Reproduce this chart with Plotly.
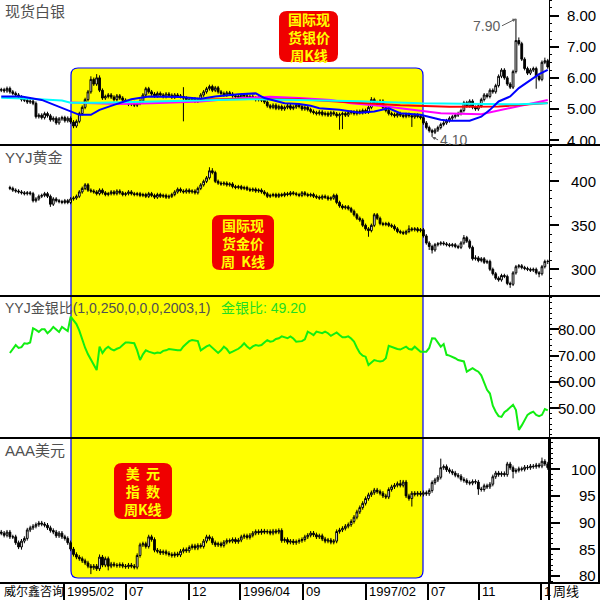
import pandas as pd
import plotly.graph_objects as go

W = H = 600
N = 190
dates = pd.date_range("1994-09-02", periods=N, freq="7D")

# ---------------- silver (weekly OHLC) ----------------
silver_open = [
    5.60, 5.62, 5.58, 5.66, 5.55, 5.50, 5.45, 5.38, 5.30, 5.28,
    5.22, 5.25, 5.18, 4.75, 4.80, 4.72, 4.85, 4.78, 4.65, 4.70,
    4.55, 4.68, 4.72, 4.62, 4.70, 4.58, 4.45, 4.60, 4.85, 5.05,
    5.30, 5.55, 5.95, 5.80, 6.00, 5.60, 5.35, 5.40, 5.45, 5.38,
    5.30, 5.42, 5.35, 5.28, 5.22, 5.15, 5.20, 5.12, 5.18, 5.25,
    5.45, 5.65, 5.55, 5.48, 5.42, 5.50, 5.45, 5.40, 5.48, 5.44,
    5.38, 5.45, 5.42, 5.40, 5.35, 5.30, 5.28, 5.32, 5.25, 5.30,
    5.45, 5.55, 5.65, 5.72, 5.60, 5.68, 5.55, 5.50, 5.45, 5.52,
    5.48, 5.42, 5.40, 5.38, 5.45, 5.42, 5.36, 5.40, 5.35, 5.30,
    5.35, 5.28, 5.22, 5.10, 5.05, 5.12, 5.02, 5.08, 5.00, 5.05,
    5.10, 5.02, 5.06, 5.12, 5.08, 5.00, 5.05, 4.98, 4.92, 4.88,
    4.85, 4.90, 4.82, 4.86, 4.80, 4.88, 4.84, 4.78, 4.82, 4.85,
    4.80, 4.88, 4.90, 4.85, 4.92, 4.88, 4.95, 4.90, 5.05, 5.30,
    5.20, 5.15, 5.25, 5.05, 4.95, 4.85, 4.82, 4.78, 4.85, 4.80,
    4.76, 4.82, 4.78, 4.74, 4.80, 4.76, 4.72, 4.55, 4.40, 4.30,
    4.25, 4.32, 4.40, 4.50, 4.55, 4.62, 4.70, 4.75, 4.80, 4.85,
    4.95, 5.20, 5.10, 5.25, 5.05, 5.00, 5.10, 5.30, 5.45, 5.40,
    5.60, 5.55, 5.75, 6.05, 6.25, 6.00, 5.80, 5.70, 6.20, 7.20,
    7.10, 6.60, 6.30, 6.15, 6.25, 6.30, 6.05, 5.95, 6.50, 6.55,
]
silver_close = [
    5.62, 5.58, 5.66, 5.55, 5.50, 5.45, 5.38, 5.30, 5.28, 5.22,
    5.25, 5.18, 4.75, 4.80, 4.72, 4.85, 4.78, 4.65, 4.70, 4.55,
    4.68, 4.72, 4.62, 4.70, 4.58, 4.45, 4.60, 4.85, 5.05, 5.30,
    5.55, 5.95, 5.80, 6.00, 5.60, 5.35, 5.40, 5.45, 5.38, 5.30,
    5.42, 5.35, 5.28, 5.22, 5.15, 5.20, 5.12, 5.18, 5.25, 5.45,
    5.65, 5.55, 5.48, 5.42, 5.50, 5.45, 5.40, 5.48, 5.44, 5.38,
    5.45, 5.42, 5.40, 5.35, 5.30, 5.28, 5.32, 5.25, 5.30, 5.45,
    5.55, 5.65, 5.72, 5.60, 5.68, 5.55, 5.50, 5.45, 5.52, 5.48,
    5.42, 5.40, 5.38, 5.45, 5.42, 5.36, 5.40, 5.35, 5.30, 5.35,
    5.28, 5.22, 5.10, 5.05, 5.12, 5.02, 5.08, 5.00, 5.05, 5.10,
    5.02, 5.06, 5.12, 5.08, 5.00, 5.05, 4.98, 4.92, 4.88, 4.85,
    4.90, 4.82, 4.86, 4.80, 4.88, 4.84, 4.78, 4.82, 4.85, 4.80,
    4.88, 4.90, 4.85, 4.92, 4.88, 4.95, 4.90, 5.05, 5.30, 5.20,
    5.15, 5.25, 5.05, 4.95, 4.85, 4.82, 4.78, 4.85, 4.80, 4.76,
    4.82, 4.78, 4.74, 4.80, 4.76, 4.72, 4.55, 4.40, 4.30, 4.25,
    4.32, 4.40, 4.50, 4.55, 4.62, 4.70, 4.75, 4.80, 4.85, 4.95,
    5.20, 5.10, 5.25, 5.05, 5.00, 5.10, 5.30, 5.45, 5.40, 5.60,
    5.55, 5.75, 6.05, 6.25, 6.00, 5.80, 5.70, 6.20, 7.20, 7.10,
    6.60, 6.30, 6.15, 6.25, 6.30, 6.05, 5.95, 6.50, 6.55, 6.35,
]
silver_high = [
    5.68, 5.68, 5.72, 5.72, 5.61, 5.56, 5.51, 5.44, 5.36, 5.34,
    5.31, 5.31, 5.24, 4.86, 4.86, 4.91, 4.91, 4.84, 4.76, 4.76,
    4.74, 4.78, 4.78, 4.76, 4.76, 4.64, 4.66, 4.91, 5.11, 5.36,
    5.61, 6.05, 6.01, 6.12, 6.08, 5.66, 5.46, 5.51, 5.51, 5.44,
    5.48, 5.48, 5.41, 5.34, 5.28, 5.26, 5.26, 5.24, 5.31, 5.51,
    5.71, 5.71, 5.61, 5.54, 5.56, 5.56, 5.51, 5.54, 5.54, 5.50,
    5.51, 5.51, 5.48, 5.70, 5.41, 5.36, 5.38, 5.38, 5.36, 5.51,
    5.61, 5.71, 5.78, 5.78, 5.74, 5.74, 5.61, 5.56, 5.58, 5.58,
    5.54, 5.48, 5.46, 5.51, 5.51, 5.48, 5.46, 5.46, 5.41, 5.41,
    5.41, 5.34, 5.28, 5.16, 5.18, 5.18, 5.14, 5.14, 5.11, 5.16,
    5.16, 5.12, 5.18, 5.18, 5.14, 5.11, 5.11, 5.04, 4.98, 4.94,
    4.96, 4.96, 4.92, 4.92, 4.94, 4.94, 4.90, 4.88, 4.91, 4.91,
    4.94, 4.96, 4.96, 4.98, 4.98, 5.01, 5.01, 5.11, 5.38, 5.36,
    5.26, 5.31, 5.31, 5.11, 5.01, 4.91, 4.88, 4.91, 4.91, 4.86,
    4.88, 4.88, 4.84, 4.86, 4.86, 4.82, 4.78, 4.61, 4.46, 4.36,
    4.38, 4.46, 4.56, 4.61, 4.68, 4.76, 4.81, 4.86, 4.91, 5.01,
    5.26, 5.26, 5.31, 5.31, 5.11, 5.16, 5.36, 5.51, 5.51, 5.66,
    5.66, 5.81, 6.11, 6.31, 6.31, 6.06, 5.86, 6.26, 7.90, 7.30,
    7.16, 6.66, 6.36, 6.31, 6.36, 6.36, 6.11, 6.56, 6.65, 6.61,
]
silver_low = [
    5.54, 5.52, 5.52, 5.49, 5.44, 5.39, 5.32, 5.24, 5.22, 5.16,
    5.16, 5.12, 4.69, 4.69, 4.66, 4.66, 4.72, 4.59, 4.59, 4.49,
    4.49, 4.62, 4.56, 4.56, 4.52, 4.38, 4.39, 4.54, 4.79, 4.99,
    5.24, 5.49, 5.74, 5.74, 5.54, 5.29, 5.29, 5.34, 5.32, 5.24,
    5.24, 5.29, 5.22, 5.16, 5.09, 5.09, 5.06, 5.06, 5.12, 5.19,
    5.39, 5.49, 5.42, 5.36, 5.36, 5.39, 5.34, 5.34, 5.38, 5.32,
    5.32, 5.36, 5.34, 4.60, 5.24, 5.22, 5.22, 5.19, 5.19, 5.24,
    5.39, 5.49, 5.59, 5.54, 5.54, 5.49, 5.44, 5.39, 5.39, 5.42,
    5.36, 5.34, 5.32, 5.32, 5.36, 5.30, 5.30, 5.29, 5.24, 5.24,
    5.22, 5.16, 5.04, 4.99, 4.99, 4.96, 4.96, 4.94, 4.94, 4.99,
    4.96, 4.96, 5.00, 5.02, 4.94, 4.94, 4.92, 4.86, 4.82, 4.79,
    4.79, 4.76, 4.76, 4.74, 4.74, 4.78, 4.72, 4.33, 4.35, 4.74,
    4.74, 4.82, 4.79, 4.79, 4.82, 4.82, 4.84, 4.84, 4.99, 5.14,
    5.09, 5.09, 4.99, 4.89, 4.79, 4.76, 4.72, 4.72, 4.74, 4.70,
    4.70, 4.72, 4.42, 4.68, 4.70, 4.66, 4.49, 4.34, 4.24, 4.10,
    4.19, 4.26, 4.34, 4.44, 4.49, 4.56, 4.64, 4.69, 4.74, 4.79,
    4.89, 5.04, 5.04, 4.99, 4.94, 4.94, 5.04, 5.24, 5.34, 5.34,
    5.49, 5.49, 5.69, 5.99, 5.94, 5.74, 5.64, 5.64, 6.14, 7.04,
    6.54, 6.24, 6.09, 6.09, 6.19, 5.65, 5.89, 5.89, 6.44, 6.29,
]

# silver moving averages (read at sample weeks)
ma_blue_week = [0, 7, 14, 20, 24, 27, 31, 34, 39, 45, 51, 62, 69, 74, 82, 88, 91, 98, 103, 107,
                110, 117, 124, 129, 134, 138, 145, 148, 152, 155, 162, 166, 169, 172, 176, 179, 183, 186, 189]
ma_blue = [5.40, 5.40, 5.29, 5.07, 4.90, 4.81, 4.81, 4.97, 5.13, 5.31, 5.40, 5.38, 5.33, 5.40, 5.47,
           5.50, 5.35, 5.18, 5.16, 5.10, 5.02, 4.97, 4.88, 4.92, 5.02, 4.86, 4.81, 4.75, 4.65, 4.62,
           4.62, 4.75, 4.97, 5.24, 5.40, 5.67, 5.93, 6.12, 6.26]
ma_cyan_week = [0, 10, 21, 24, 34, 52, 69, 86, 103, 124, 145, 162, 179, 189]
ma_cyan = [5.36, 5.33, 5.27, 5.20, 5.20, 5.24, 5.29, 5.31, 5.29, 5.25, 5.18, 5.16, 5.15, 5.18]
ma_magenta_week = [24, 34, 41, 52, 69, 83, 93, 103, 114, 121, 131, 138, 152, 166, 172, 179, 186, 189]
ma_magenta = [5.21, 5.18, 5.16, 5.18, 5.24, 5.35, 5.39, 5.35, 5.29, 5.18, 5.10, 5.02, 4.86, 4.83,
              4.95, 5.08, 5.24, 5.29]
ma_red_week = [69, 86, 103, 121, 138, 155, 172, 189]
ma_red = [5.30, 5.32, 5.31, 5.22, 5.12, 5.07, 5.08, 5.19]

# ---------------- gold (weekly OHLC) ----------------
gold_open = [
    None, None, None, 393, 392, 390, 389, 388, 387, 386,
    387, 386, 378, 380, 383, 384, 386, 383, 374, 380,
    378, 377, 376, 378, 376, 380, 381, 383, 388, 392,
    396, 390, 389, 388, 386, 390, 387, 385, 386, 388,
    386, 389, 387, 385, 386, 388, 386, 385, 386, 384,
    385, 383, 386, 384, 382, 385, 383, 384, 382, 383,
    385, 388, 391, 389, 388, 390, 388, 389, 387, 392,
    396, 400, 404, 412, 410, 400, 398, 397, 398, 396,
    397, 394, 393, 394, 392, 393, 391, 390, 391, 389,
    390, 388, 386, 383, 384, 385, 383, 385, 384, 386,
    385, 387, 386, 385, 384, 387, 385, 384, 385, 383,
    382, 381, 383, 382, 380, 381, 384, 376, 372, 370,
    371, 369, 366, 362, 358, 356, 350, 346, 344, 350,
    362, 358, 352, 351, 352, 350, 349, 346, 343, 342,
    341, 343, 346, 345, 346, 344, 345, 338, 330, 326,
    322, 328, 329, 330, 329, 328, 327, 328, 326, 325,
    330, 336, 332, 325, 312, 313, 310, 312, 308, 309,
    300, 295, 290, 288, 293, 292, 284, 283, 296, 303,
    304, 302, 301, 300, 299, 300, 296, 295, 303, 309,
]
gold_close = [
    None, None, None, 392, 390, 389, 388, 387, 386, 387,
    386, 378, 380, 383, 384, 386, 383, 374, 380, 378,
    377, 376, 378, 376, 380, 381, 383, 388, 392, 396,
    390, 389, 388, 386, 390, 387, 385, 386, 388, 386,
    389, 387, 385, 386, 388, 386, 385, 386, 384, 385,
    383, 386, 384, 382, 385, 383, 384, 382, 383, 385,
    388, 391, 389, 388, 390, 388, 389, 387, 392, 396,
    400, 404, 412, 410, 400, 398, 397, 398, 396, 397,
    394, 393, 394, 392, 393, 391, 390, 391, 389, 390,
    388, 386, 383, 384, 385, 383, 385, 384, 386, 385,
    387, 386, 385, 384, 387, 385, 384, 385, 383, 382,
    381, 383, 382, 380, 381, 384, 376, 372, 370, 371,
    369, 366, 362, 358, 356, 350, 346, 344, 350, 362,
    358, 352, 351, 352, 350, 349, 346, 343, 342, 341,
    343, 346, 345, 346, 344, 345, 338, 330, 326, 322,
    328, 329, 330, 329, 328, 327, 328, 326, 325, 330,
    336, 332, 325, 312, 313, 310, 312, 308, 309, 300,
    295, 290, 288, 293, 292, 284, 283, 296, 303, 304,
    302, 301, 300, 299, 300, 296, 295, 303, 309, 309,
]
gold_high = [
    None, None, None, 395, 394, 392, 391, 390, 389, 389,
    389, 388, 382, 385, 386, 388, 388, 385, 382, 382,
    380, 379, 380, 380, 382, 383, 385, 390, 394, 398,
    398, 392, 391, 390, 392, 392, 389, 388, 390, 390,
    391, 391, 389, 388, 390, 390, 388, 388, 388, 387,
    387, 388, 388, 386, 387, 387, 386, 386, 385, 387,
    390, 393, 393, 391, 392, 392, 391, 391, 394, 398,
    402, 406, 416, 415, 412, 402, 400, 400, 400, 399,
    399, 396, 396, 396, 395, 395, 393, 393, 393, 392,
    392, 390, 388, 386, 387, 387, 387, 387, 388, 388,
    389, 389, 388, 387, 389, 389, 387, 387, 387, 385,
    384, 385, 385, 384, 383, 386, 386, 378, 374, 373,
    373, 371, 368, 364, 360, 358, 352, 348, 352, 364,
    364, 360, 354, 354, 354, 352, 351, 348, 345, 344,
    345, 350, 348, 348, 348, 347, 347, 340, 332, 328,
    330, 331, 332, 332, 331, 330, 330, 330, 328, 332,
    339, 338, 334, 327, 316, 315, 314, 314, 311, 311,
    302, 297, 292, 295, 295, 294, 286, 298, 305, 306,
    306, 304, 303, 302, 302, 302, 298, 305, 311, 311,
]
gold_low = [
    None, None, None, 390, 388, 387, 386, 385, 384, 384,
    384, 376, 376, 378, 381, 382, 381, 371, 372, 376,
    375, 374, 374, 374, 374, 378, 379, 381, 386, 390,
    388, 387, 386, 384, 384, 385, 383, 383, 384, 384,
    384, 385, 383, 383, 384, 384, 383, 383, 382, 382,
    381, 381, 382, 380, 380, 381, 381, 380, 380, 381,
    383, 386, 387, 386, 386, 386, 386, 385, 385, 390,
    394, 398, 402, 408, 398, 396, 395, 395, 394, 394,
    392, 391, 391, 390, 390, 389, 388, 388, 387, 387,
    386, 384, 381, 381, 382, 381, 381, 382, 382, 383,
    383, 384, 383, 382, 382, 383, 382, 382, 381, 380,
    379, 379, 380, 378, 378, 379, 374, 370, 368, 368,
    367, 364, 360, 356, 354, 348, 344, 337, 342, 348,
    356, 350, 349, 349, 348, 347, 344, 341, 340, 339,
    339, 341, 343, 343, 342, 342, 336, 328, 322, 318,
    320, 326, 327, 327, 326, 325, 325, 324, 323, 323,
    328, 330, 323, 310, 310, 308, 308, 306, 306, 298,
    293, 288, 286, 286, 290, 282, 279, 281, 294, 301,
    300, 299, 298, 297, 297, 294, 291, 293, 301, 306,
]

# ---------------- gold / silver ratio ----------------
ratio = [
    None, None, None, 71.0, 72.5, 74.0, 72.9, 73.2, 74.7, 74.5,
    75.0, 80.4, 79.8, 79.0, 80.0, 80.0, 78.5, 79.5, 80.9, 79.8,
    79.0, 80.9, 80.0, 79.3, 84.8, 83.5, 82.0, 79.5, 76.0, 73.0,
    70.5, 68.5, 66.5, 64.5, 73.4, 71.0, 72.5, 73.4, 72.5, 72.0,
    72.6, 73.0, 74.0, 75.0, 75.0, 74.8, 74.7, 72.0, 68.3, 70.5,
    72.0, 71.5, 71.0, 70.8, 71.2, 71.0, 71.8, 72.0, 72.5, 72.3,
    72.3, 72.0, 72.0, 73.5, 74.5, 75.5, 75.9, 75.8, 75.5, 72.0,
    72.8, 73.5, 74.0, 73.0, 72.0, 71.0, 72.0, 73.4, 72.5, 71.0,
    71.5, 72.0, 72.6, 73.5, 74.7, 73.5, 72.6, 73.5, 74.0, 73.8,
    74.0, 75.0, 75.9, 75.3, 75.5, 76.3, 76.6, 77.3, 76.8, 76.6,
    77.3, 76.5, 75.3, 75.3, 75.5, 76.2, 79.1, 78.5, 77.8, 79.1,
    78.8, 78.5, 79.1, 78.5, 77.5, 78.0, 78.8, 77.8, 77.0, 77.0,
    77.3, 76.5, 75.3, 73.0, 71.0, 70.0, 69.6, 66.4, 67.5, 68.3,
    68.0, 67.8, 68.0, 69.0, 73.7, 73.2, 72.9, 72.5, 72.3, 73.0,
    73.4, 72.5, 72.3, 73.4, 72.5, 71.5, 71.5, 71.5, 72.9, 76.6,
    76.5, 75.0, 73.4, 74.4, 70.3, 70.0, 69.6, 69.0, 68.3, 68.0,
    67.8, 63.9, 64.5, 65.2, 64.5, 63.9, 62.5, 60.0, 57.0, 55.6,
    51.0, 48.7, 47.0, 46.7, 48.5, 49.3, 50.5, 51.3, 49.3, 41.8,
    43.5, 45.5, 47.5, 48.2, 48.7, 47.5, 47.0, 47.5, 49.7, 49.2,
]

# ---------------- US dollar index (weekly OHLC) ----------------
usd_open = [
    88.2, 88.0, 87.6, 88.2, 87.3, 87.3, 86.2, 85.4, 86.5, 87.0,
    88.6, 89.0, 89.3, 89.6, 89.9, 89.7, 89.5, 89.0, 88.5, 88.2,
    87.5, 88.0, 87.3, 87.0, 86.2, 85.0, 84.0, 83.5, 83.2, 82.8,
    82.4, 81.8, 81.5, 81.8, 81.3, 83.5, 82.0, 83.2, 81.8, 82.2,
    82.0, 81.9, 82.1, 81.8, 81.7, 82.0, 81.8, 81.6, 83.8, 85.8,
    86.0, 85.5, 87.3, 86.8, 84.8, 84.6, 84.3, 84.5, 84.2, 84.0,
    83.8, 84.1, 83.9, 84.6, 84.9, 84.7, 85.3, 85.6, 85.2, 85.7,
    85.5, 86.5, 87.3, 87.0, 86.2, 85.8, 86.0, 85.7, 86.3, 86.6,
    86.5, 86.8, 86.4, 86.7, 87.3, 87.5, 87.2, 87.6, 88.0, 88.3,
    88.1, 88.4, 88.2, 88.3, 88.0, 88.4, 88.2, 88.5, 86.6, 86.8,
    86.3, 86.5, 86.2, 86.4, 86.6, 86.8, 87.3, 87.6, 88.0, 87.7,
    87.3, 87.5, 86.9, 86.5, 86.7, 86.3, 86.5, 88.3, 88.6, 88.9,
    89.3, 89.6, 90.2, 91.0, 92.0, 92.8, 93.6, 94.5, 95.2, 95.6,
    96.1, 95.8, 95.5, 95.0, 94.8, 96.2, 96.7, 97.0, 97.3, 97.0,
    97.6, 95.0, 94.5, 95.5, 95.3, 95.5, 95.3, 95.6, 95.4, 96.0,
    97.5, 98.0, 98.5, 100.3, 100.5, 99.9, 99.6, 99.3, 98.9, 98.7,
    98.1, 97.9, 97.5, 97.4, 97.7, 97.6, 96.3, 96.2, 96.9, 96.7,
    97.2, 98.6, 99.3, 99.0, 99.2, 99.0, 101.0, 100.3, 99.6, 99.8,
    100.1, 100.0, 100.4, 100.3, 100.6, 100.5, 100.8, 100.6, 101.5, 101.0,
]
usd_close = [
    88.0, 87.6, 88.2, 87.3, 87.3, 86.2, 85.4, 86.5, 87.0, 88.6,
    89.0, 89.3, 89.6, 89.9, 89.7, 89.5, 89.0, 88.5, 88.2, 87.5,
    88.0, 87.3, 87.0, 86.2, 85.0, 84.0, 83.5, 83.2, 82.8, 82.4,
    81.8, 81.5, 81.8, 81.3, 83.5, 82.0, 83.2, 81.8, 82.2, 82.0,
    81.9, 82.1, 81.8, 81.7, 82.0, 81.8, 81.6, 83.8, 85.8, 86.0,
    85.5, 87.3, 86.8, 84.8, 84.6, 84.3, 84.5, 84.2, 84.0, 83.8,
    84.1, 83.9, 84.6, 84.9, 84.7, 85.3, 85.6, 85.2, 85.7, 85.5,
    86.5, 87.3, 87.0, 86.2, 85.8, 86.0, 85.7, 86.3, 86.6, 86.5,
    86.8, 86.4, 86.7, 87.3, 87.5, 87.2, 87.6, 88.0, 88.3, 88.1,
    88.4, 88.2, 88.3, 88.0, 88.4, 88.2, 88.5, 86.6, 86.8, 86.3,
    86.5, 86.2, 86.4, 86.6, 86.8, 87.3, 87.6, 88.0, 87.7, 87.3,
    87.5, 86.9, 86.5, 86.7, 86.3, 86.5, 88.3, 88.6, 88.9, 89.3,
    89.6, 90.2, 91.0, 92.0, 92.8, 93.6, 94.5, 95.2, 95.6, 96.1,
    95.8, 95.5, 95.0, 94.8, 96.2, 96.7, 97.0, 97.3, 97.0, 97.6,
    95.0, 94.5, 95.5, 95.3, 95.5, 95.3, 95.6, 95.4, 96.0, 97.5,
    98.0, 98.5, 100.3, 100.5, 99.9, 99.6, 99.3, 98.9, 98.7, 98.1,
    97.9, 97.5, 97.4, 97.7, 97.6, 96.3, 96.2, 96.9, 96.7, 97.2,
    98.6, 99.3, 99.0, 99.2, 99.0, 101.0, 100.3, 99.6, 99.8, 100.1,
    100.0, 100.4, 100.3, 100.6, 100.5, 100.8, 100.6, 101.5, 101.0, 100.3,
]
usd_high = [
    88.6, 88.4, 88.6, 88.6, 87.7, 87.7, 86.6, 86.9, 87.4, 89.0,
    89.4, 89.7, 90.0, 90.3, 90.3, 90.1, 89.9, 89.4, 88.9, 88.6,
    88.4, 88.4, 87.7, 87.4, 86.6, 85.4, 84.4, 83.9, 83.6, 83.2,
    82.8, 82.2, 82.2, 82.2, 84.0, 83.9, 83.6, 83.6, 82.6, 82.6,
    82.4, 82.5, 82.5, 82.2, 82.4, 82.4, 82.2, 84.2, 86.2, 86.4,
    86.4, 87.7, 87.7, 87.2, 85.2, 85.0, 84.9, 84.9, 84.6, 84.4,
    84.5, 84.5, 85.0, 85.3, 85.3, 85.7, 86.0, 86.0, 86.1, 86.1,
    86.9, 87.7, 87.7, 87.4, 86.6, 86.4, 86.4, 86.7, 87.0, 87.0,
    87.2, 87.2, 87.1, 87.7, 87.9, 87.9, 88.0, 88.4, 88.7, 88.7,
    88.8, 88.8, 88.7, 88.7, 88.8, 88.8, 88.9, 88.9, 87.2, 87.2,
    86.9, 86.9, 86.8, 87.0, 87.2, 87.7, 88.0, 88.4, 88.4, 88.1,
    87.9, 87.9, 87.3, 87.1, 87.1, 86.9, 88.7, 89.0, 89.3, 89.7,
    90.0, 90.6, 91.4, 92.4, 93.2, 94.0, 94.9, 95.6, 96.0, 96.5,
    96.5, 96.2, 95.9, 95.4, 96.6, 97.1, 97.4, 97.7, 98.0, 98.0,
    98.0, 95.4, 95.9, 95.9, 95.9, 95.9, 96.0, 96.0, 96.4, 97.9,
    98.4, 98.9, 102.0, 100.9, 100.9, 100.3, 100.0, 99.7, 99.3, 99.1,
    98.5, 98.3, 97.9, 98.1, 98.1, 98.0, 96.7, 97.3, 97.3, 97.6,
    99.0, 99.7, 99.7, 99.6, 99.6, 101.4, 101.4, 100.7, 100.2, 100.5,
    100.5, 100.8, 100.8, 101.0, 101.0, 101.2, 101.2, 102.2, 101.9, 101.4,
]
usd_low = [
    87.6, 87.2, 87.2, 86.9, 86.9, 85.8, 85.0, 84.9, 86.1, 86.6,
    88.2, 88.6, 88.9, 89.2, 89.3, 89.1, 88.6, 88.1, 87.8, 87.1,
    87.1, 86.9, 86.6, 85.8, 84.6, 83.6, 83.1, 82.8, 82.4, 82.0,
    81.4, 80.3, 81.1, 80.9, 80.9, 81.6, 81.6, 81.0, 81.4, 81.6,
    81.5, 81.5, 81.4, 81.3, 81.3, 81.4, 81.2, 81.2, 83.4, 85.4,
    85.1, 85.1, 86.4, 84.4, 84.2, 83.9, 83.9, 83.8, 83.6, 83.4,
    83.4, 83.5, 83.5, 84.2, 84.3, 84.3, 84.9, 84.8, 84.8, 85.1,
    85.1, 86.1, 86.6, 85.8, 85.4, 85.4, 85.3, 85.3, 85.9, 86.1,
    86.1, 86.0, 86.0, 86.3, 86.9, 86.8, 86.8, 87.2, 87.6, 87.7,
    87.7, 87.8, 87.8, 87.6, 87.6, 87.8, 87.8, 86.2, 86.2, 85.9,
    85.9, 85.8, 85.8, 86.0, 86.2, 86.4, 86.9, 87.2, 87.3, 86.9,
    86.9, 86.5, 86.1, 86.1, 85.9, 85.9, 86.1, 87.9, 88.2, 88.5,
    88.9, 89.2, 89.8, 90.6, 91.6, 92.4, 93.2, 94.1, 94.8, 95.2,
    95.4, 95.1, 94.6, 94.4, 94.4, 95.8, 96.3, 96.6, 96.6, 96.6,
    94.6, 94.1, 93.0, 94.9, 94.9, 94.9, 94.9, 95.0, 95.0, 95.6,
    97.1, 97.6, 98.1, 99.9, 99.5, 99.2, 98.9, 98.5, 98.3, 97.7,
    97.5, 97.1, 97.0, 97.0, 97.2, 95.2, 95.8, 95.8, 96.3, 96.3,
    96.8, 98.2, 98.6, 98.6, 98.6, 98.6, 99.9, 98.3, 99.2, 99.4,
    99.6, 99.6, 99.9, 99.9, 100.1, 100.1, 100.2, 100.2, 100.6, 99.9,
]

# axis ticks
silver_ticks = [4, 5, 6, 7, 8]
silver_tick_text = ["4.00", "5.00", "6.00", "7.00", "8.00"]
gold_ticks = [300, 350, 400]
gold_tick_text = ["300", "350", "400"]
ratio_ticks = [50, 60, 70, 80]
ratio_tick_text = ["50.00", "60.00", "70.00", "80.00"]
usd_ticks = [80, 85, 90, 95, 100]
usd_tick_text = ["80", "85", "90", "95", "100"]
month_ticks = ["1995-02-01", "1995-07-01", "1995-12-01", "1996-04-01", "1996-09-01",
               "1997-02-01", "1997-07-01", "1997-11-01", "1998-04-01"]
month_tick_text = ["1995/02", "07", "12", "1996/04", "09", "1997/02", "07", "11", "1"]

for arr in [silver_open, silver_close, silver_high, silver_low, gold_open, gold_close,
            gold_high, gold_low, ratio, usd_open, usd_close, usd_high, usd_low]:
    assert len(arr) == N, len(arr)

FONT = "Liberation Sans, Arial, Noto Sans CJK SC, sans-serif"
CJK = "Noto Sans CJK SC, sans-serif"


def px(x):
    return x / W


def py(y):
    return 1 - y / H


def rrect(x0, y0, x1, y1, r):
    pts = [
        f"M {px(x0 + r)},{py(y0)}", f"L {px(x1 - r)},{py(y0)}", f"Q {px(x1)},{py(y0)} {px(x1)},{py(y0 + r)}",
        f"L {px(x1)},{py(y1 - r)}", f"Q {px(x1)},{py(y1)} {px(x1 - r)},{py(y1)}",
        f"L {px(x0 + r)},{py(y1)}", f"Q {px(x0)},{py(y1)} {px(x0)},{py(y1 - r)}",
        f"L {px(x0)},{py(y0 + r)}", f"Q {px(x0)},{py(y0)} {px(x0 + r)},{py(y0)}", "Z",
    ]
    return " ".join(pts)


fig = go.Figure()


def candles(o, h, l, c, yaxis):
    return go.Candlestick(
        x=dates, open=o, high=h, low=l, close=c, yaxis=yaxis, xaxis="x",
        increasing=dict(line=dict(color="black", width=1), fillcolor="white"),
        decreasing=dict(line=dict(color="black", width=1), fillcolor="black"),
        whiskerwidth=0, showlegend=False, hoverinfo="skip",
    )


fig.add_trace(candles(silver_open, silver_high, silver_low, silver_close, "y"))
for wk, vals, col in [(ma_magenta_week, ma_magenta, "#ff00ff"), (ma_red_week, ma_red, "#ff0000"),
                      (ma_cyan_week, ma_cyan, "#00ffff"), (ma_blue_week, ma_blue, "#0000ff")]:
    fig.add_trace(go.Scatter(x=[dates[i] for i in wk], y=vals, mode="lines", yaxis="y",
                             line=dict(color=col, width=2), showlegend=False, hoverinfo="skip"))
fig.add_trace(candles(gold_open, gold_high, gold_low, gold_close, "y2"))
fig.add_trace(go.Scatter(x=dates, y=ratio, mode="lines", yaxis="y3",
                         line=dict(color="#11ee11", width=2), showlegend=False, hoverinfo="skip"))
fig.add_trace(candles(usd_open, usd_high, usd_low, usd_close, "y4"))

panels = [(0, 145), (145, 296), (296, 438), (438, 583)]
ranges = [[3.839, 8.505], [269.7, 441.3], [38.7, 92.65], [78.63, 105.88]]
ticks = [silver_ticks, gold_ticks, ratio_ticks, usd_ticks]
minors = [0.25, 10, 2, 1]
names = ["yaxis", "yaxis2", "yaxis3", "yaxis4"]
for k in range(4):
    top, bot = panels[k]
    fig.layout[names[k]] = dict(
        domain=[py(bot), py(top)], range=ranges[k], side="right", anchor="x",
        showline=True, linecolor="black", linewidth=2 if k == 3 else 1,
        ticks="outside", ticklen=9, tickwidth=1.5, tickcolor="black",
        tickmode="array", tickvals=ticks[k], showticklabels=False,
        minor=dict(tickmode="linear", tick0=0, dtick=minors[k], ticks="outside",
                   ticklen=2, tickwidth=1, tickcolor="black", showgrid=False),
        showgrid=False, zeroline=False, fixedrange=True,
    )

fig.update_layout(
    width=W, height=H, margin=dict(l=0, r=0, t=0, b=0),
    paper_bgcolor="white", plot_bgcolor="white", showlegend=False,
    boxgap=0.12,
    xaxis=dict(domain=[0, px(549)], type="date", range=["1994-08-30", "1998-04-20"],
               anchor="y4", showgrid=False, zeroline=False, showline=False,
               ticks="outside", ticklen=17, tickwidth=2, tickcolor="black",
               tickmode="array", tickvals=month_ticks, showticklabels=False,
               rangeslider=dict(visible=False), fixedrange=True),
    font=dict(family=FONT, size=14, color="black"),
)

shapes = []
# yellow highlight box
shapes.append(dict(type="path", xref="paper", yref="paper", path=rrect(71, 68, 423, 578, 7),
                   fillcolor="#ffff00", line=dict(color="#0000ff", width=1.2), layer="below"))
# panel separators
for yy in [145, 296, 438, 583]:
    shapes.append(dict(type="line", xref="paper", yref="paper", x0=0, x1=1, y0=py(yy), y1=py(yy),
                       line=dict(color="black", width=2), layer="above"))
shapes.append(dict(type="line", xref="paper", yref="paper", x0=px(549), x1=px(549), y0=py(583), y1=0,
                   line=dict(color="black", width=2)))
shapes.append(dict(type="rect", xref="paper", yref="paper", x0=px(549), x1=px(599), y0=py(583), y1=py(438),
                   line=dict(color="black", width=2)))
# red label boxes
for (x0, y0, x1, y1) in [(279, 11, 338, 62), (212, 215, 274, 270), (114, 463, 172, 519)]:
    shapes.append(dict(type="path", xref="paper", yref="paper", path=rrect(x0, y0, x1, y1, 8),
                       fillcolor="#f00000", line=dict(width=0), layer="above"))
fig.update_layout(shapes=shapes)

ann = []
TITLE = "#505050"
ann.append(dict(x=px(3), y=py(1), text="现货白银", font=dict(size=15, color=TITLE, family=FONT)))
ann.append(dict(x=px(3), y=py(147), text="YYJ黄金", font=dict(size=15, color=TITLE, family=FONT)))
ann.append(dict(x=px(3), y=py(298), text="YYJ金银比(1,0,250,0,0,0,2003,1)",
                font=dict(size=14, color=TITLE, family=FONT)))
ann.append(dict(x=px(219), y=py(298), text="金银比: 49.20", font=dict(size=14, color="#22dd22", family=FONT)))
ann.append(dict(x=px(3), y=py(440), text="AAA美元", font=dict(size=15, color=TITLE, family=FONT)))
for a in ann:
    a.update(xref="paper", yref="paper", xanchor="left", yanchor="top", showarrow=False)

yrefs = ["y", "y2", "y3", "y4"]
texts = [silver_tick_text, gold_tick_text, ratio_tick_text, usd_tick_text]
for k in range(4):
    for v, t in zip(ticks[k], texts[k]):
        ann.append(dict(xref="paper", yref=yrefs[k], x=px(598), y=v, text=t, xanchor="right",
                        yanchor="middle", showarrow=False, font=dict(size=15, color="black", family=FONT)))

# bottom date labels
ann.append(dict(xref="paper", yref="paper", x=px(2), y=py(591), text="威尔鑫咨询", xanchor="left",
                yanchor="middle", showarrow=False, font=dict(size=12, color="black", family=FONT)))
for d, t in zip(month_ticks, month_tick_text):
    ann.append(dict(xref="x", yref="paper", x=d, y=py(591), text=t, xanchor="left", xshift=1,
                    yanchor="middle", showarrow=False, font=dict(size=13, color="black", family=FONT)))
ann.append(dict(xref="paper", yref="paper", x=px(551), y=py(591), text="周线", xanchor="left",
                yanchor="middle", showarrow=False, font=dict(size=13, color="black", family=FONT)))

# red box texts (one block per box)
box_text = [
    (308.5, 37, "国际现<br>货银价<br>周K线"),
    (243, 243, "国际现<br>货金价<br>周  K线"),
    (143, 491, "美  元<br>指  数<br>周K线"),
]
for cx, cy, t in box_text:
    ann.append(dict(xref="paper", yref="paper", x=px(cx), y=py(cy), text=f"<b>{t}</b>",
                    xanchor="center", yanchor="middle", showarrow=False, align="center",
                    font=dict(size=14, color="#ffff00", family=CJK)))

# high / low markers
ann.append(dict(xref="x", yref="y", x=dates[178], y=7.90, text="7.90", showarrow=True, ax=-14, ay=7,
                xanchor="right", yanchor="middle", arrowhead=2, arrowsize=0.7, arrowwidth=1,
                arrowcolor="#606060", font=dict(size=14, color="#606060", family=FONT)))
ann.append(dict(xref="x", yref="y", x=dates[149], y=4.10, text="4.10", showarrow=True, ax=6, ay=3,
                xanchor="left", yanchor="middle", arrowhead=2, arrowsize=0.7, arrowwidth=1,
                arrowcolor="#606060", font=dict(size=14, color="#606060", family=FONT)))

fig.update_layout(annotations=ann)
fig.write_html("out.html", config={"displayModeBar": False},
               post_script="document.body.style.margin='0';document.body.style.padding='0';")
